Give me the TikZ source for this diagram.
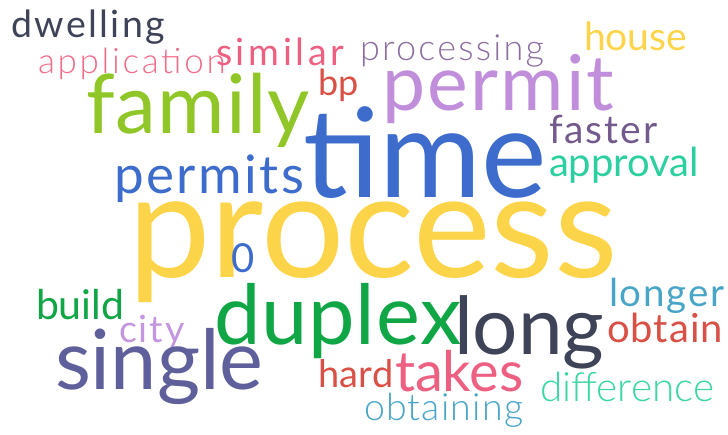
\documentclass[tikz,border=0pt]{standalone}
\usepackage{fontspec}
\setmainfont{Lato}
\newfontfamily\latolight{Lato Light}
\definecolor{cyellow}{RGB}{252,212,74}
\definecolor{cblue}{RGB}{61,108,204}
\definecolor{cpurple}{RGB}{192,142,218}
\definecolor{cgreenlt}{RGB}{145,198,40}
\definecolor{cdark}{RGB}{62,67,88}
\definecolor{cpinklt}{RGB}{240,110,138}
\definecolor{cpink}{RGB}{238,96,130}
\definecolor{cmauve}{RGB}{140,110,160}
\definecolor{cplum}{RGB}{115,90,140}
\definecolor{cteal}{RGB}{43,207,160}
\definecolor{cred}{RGB}{217,81,70}
\definecolor{cgreen}{RGB}{16,166,70}
\definecolor{clilac}{RGB}{195,150,224}
\definecolor{cindigo}{RGB}{95,95,155}
\definecolor{csky}{RGB}{72,165,200}
\definecolor{cmint}{RGB}{60,214,160}
\tikzset{
  word/.style={anchor=base west, inner sep=0pt, outer sep=0pt},
  % size in pt, letter spacing in percent of the size
  sz/.style 2 args={font=\fontsize{#1}{#1}\selectfont\addfontfeatures{LetterSpace=#2}},
  szl/.style 2 args={font=\latolight\fontsize{#1}{#1}\selectfont\addfontfeatures{LetterSpace=#2}}
}
\begin{document}
\begin{tikzpicture}[x=1pt,y=-1pt]
\useasboundingbox (0,0) rectangle (728,434);
\node[word,sz={147}{0},text=cyellow] (process) at (128,277) {process};
\node[word,sz={124}{0},text=cblue] (time) at (303,197) {time};
\node[word,sz={77}{2.9},text=cpurple] (permit) at (382,110) {permit};
\node[word,sz={82}{1.5},text=cgreenlt] (family) at (86,133) {family};
\node[word,sz={53}{4.7},text=cblue] (permits) at (114,193) {permits};
\node[word,sz={37.5}{6.5},text=cdark] (dwelling) at (11,37) {dwelling};
\node[word,szl={35}{7.7},text=cpinklt] (application) at (38,73) {application};
\node[word,sz={37.5}{9.8},text=cpink] (similar) at (216,65) {similar};
\node[word,szl={36}{6.2},text=cmauve] (processing) at (360,60) {processing};
\node[word,sz={39}{0},text=cyellow] (house) at (584,50) {house};
\node[word,sz={36}{0},text=cred] (bp) at (318,95) {bp};
\node[word,sz={39}{5},text=cplum] (faster) at (549,143) {faster};
\node[word,sz={40}{0},text=cteal] (approval) at (549,176) {approval};
\node[word,sz={40}{0},text=cblue] (zero) at (231,272) {0};
\node[word,sz={41}{0},text=cgreen] (build) at (36,319) {build};
\node[word,sz={37.5}{5},text=clilac] (city) at (119,342) {city};
\node[word,sz={83}{0},text=cindigo] (single) at (55,389) {single};
\node[word,sz={83}{1},text=cgreen] (duplex) at (214,344) {duplex};
\node[word,sz={80}{0},text=cdark] (long) at (454,354) {long};
\node[word,sz={56}{0},text=cpink] (takes) at (395,391) {takes};
\node[word,sz={38}{1},text=cred] (hard) at (318,387) {hard};
\node[word,szl={37.5}{3.3},text=csky] (obtaining) at (364,420) {obtaining};
\node[word,szl={40.5}{0},text=cmint] (difference) at (540,401) {difference};
\node[word,sz={38.5}{4.5},text=csky] (longer) at (609,306) {longer};
\node[word,sz={40}{2.5},text=cred] (obtain) at (607,342) {obtain};
\end{tikzpicture}
\end{document}
